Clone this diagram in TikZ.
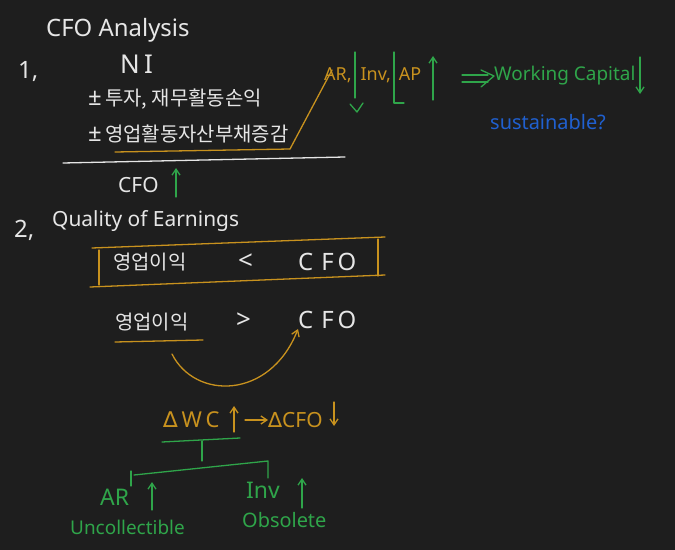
\documentclass[tikz,border=0pt]{standalone}
\usepackage{fontspec}
\setmainfont{Noto Sans}
\newfontfamily\kr{Noto Sans CJK KR}
\newfontfamily\sym{DejaVu Sans}
\usetikzlibrary{arrows.meta}
\definecolor{bg}{HTML}{1E1E1E}
\definecolor{wh}{HTML}{E6E6E6}
\definecolor{gd}{HTML}{C8921E}
\definecolor{gr}{HTML}{2FA54A}
\definecolor{bl}{HTML}{2060D0}
\begin{document}
\begin{tikzpicture}[x=1bp,y=-1bp,
  txt/.style={inner sep=0,anchor=west,font=\fontsize{20}{24}\selectfont},
  ink/.style={line width=1.3pt,line cap=round,line join=round},
  arr/.style={ink,-{Straight Barb[length=6pt,width=8pt]}}]
\fill[bg] (0,0) rectangle (675,550);
\useasboundingbox (0,0) rectangle (675,550);
% Section 1
\node[txt,wh,font=\fontsize{24}{28}\selectfont] (title) at (46,30) {CFO Analysis};
\node[txt,wh,font=\fontsize{24}{28}\selectfont] (one) at (18,72) {1,};
\node[txt,wh,font=\fontsize{26}{30}\selectfont] (ni) at (120,64) {N\,I};
\node[txt,wh] (l1) at (88,99) {{\fontsize{24}{28}\selectfont ±}\,{\kr 투자, 재무활동손익}};
\node[txt,wh] (l2) at (88,134) {{\fontsize{24}{28}\selectfont ±}\,{\kr 영업활동자산부채증감}};
\coordinate (u1) at (115,152);
\coordinate (u2) at (290,149);
\draw[ink,gd] (u1) -- (u2);
\draw[ink,wh] (63,163) -- (345,157);
\node[txt,wh,font=\fontsize{21}{25}\selectfont] (cfo1) at (118,185) {CFO};
\draw[arr,gr] (176,197) -- (176,168);
% AR Inv AP
\node[txt,gd,font=\fontsize{18}{22}\selectfont] (arinv) at (324,75) {AR,\hspace{9pt}Inv,\hspace{8pt}AP};
\coordinate (arfoot) at (332,70);
\draw[ink,gd] (u2) -- (arfoot);
\draw[ink,gr] (355,52) -- (355,98);
\draw[ink,gr] (350,104) -- (357,112) -- (363,103);
\draw[ink,gr] (394,52) -- (394,103) -- (404,103);
\draw[arr,gr] (433,100) -- (433,56);
\node[txt,gr,font=\fontsize{19}{23}\selectfont] (wc) at (494,76) {Working Capital};
\coordinate (wa1) at (462,75);
\coordinate (wa2) at (462,82);
\draw[ink,gr] (wa1) -- (488,75);
\draw[ink,gr] (wa2) -- (488,82);
\draw[ink,gr] (481,70) -- (wc.west) -- (481,87);
\draw[arr,gr] (640,57) -- (640,94);
\node[txt,bl,font=\fontsize{20}{24}\selectfont] (sus) at (490,122) {sustainable?};
% Section 2
\node[txt,wh,font=\fontsize{24}{28}\selectfont] (two) at (14,230) {2,};
\node[txt,wh,font=\fontsize{21}{25}\selectfont] (qoe) at (52,221) {Quality of Earnings};
\draw[ink,gd] (92,248) -- (385,237);
\draw[ink,gd] (90,287) -- (385,275);
\draw[ink,gd] (99,250) -- (99,285);
\draw[ink,gd] (378,239) -- (378,276);
\node[txt,wh] (op1) at (113,262) {\kr 영업이익};
\node[txt,wh,font=\fontsize{26}{30}\selectfont] (lt) at (238,262) {<};
\node[txt,wh,font=\fontsize{24}{28}\selectfont] (cfo2) at (298,262) {C\,\,F\,O};
\node[txt,wh] (op2) at (115,322) {\kr 영업이익};
\node[txt,wh,font=\fontsize{26}{30}\selectfont] (gt) at (236,321) {>};
\node[txt,wh,font=\fontsize{24}{28}\selectfont] (cfo3) at (298,320) {C\,\,F\,O};
\draw[ink,gd] (115,342) -- (203,340);
\coordinate (cs) at (172,354);
\draw[arr,gd] (cs) .. controls (195,400) and (270,400) .. (cfo3.south west);
% Delta WC
\node[txt,gd,font=\fontsize{22}{26}\selectfont] (dwc) at (163,420) {{\sym ∆}\,W\,C};
\draw[arr,gd] (234,432) -- (234,406);
\node[txt,gd,font=\fontsize{21}{25}\selectfont] (dcfo) at (268,420) {{\sym ∆}CFO};
\draw[arr,gd] (245,420) -- (dcfo.west);
\draw[arr,gd] (334,402) -- (334,426);
% tree
\coordinate (t1) at (162,442);
\coordinate (t2) at (240,438);
\draw[ink,gr] (t1) -- (t2);
\draw[ink,gr] (202,441) -- (202,461);
\draw[ink,gr] (134,475) -- (268,461) -- (268,478);
\draw[ink,gr] (131,471) -- (131,486);
\node[txt,gr,font=\fontsize{23}{27}\selectfont] (ar) at (100,497) {AR};
\draw[arr,gr] (152,510) -- (152,482);
\node[txt,gr,font=\fontsize{23}{27}\selectfont] (inv) at (246,490) {Inv};
\draw[arr,gr] (302,508) -- (302,478);
\node[txt,gr,font=\fontsize{19}{23}\selectfont] (unc) at (70,527) {Uncollectible};
\node[txt,gr,font=\fontsize{20}{24}\selectfont] (obs) at (242,520) {Obsolete};
\end{tikzpicture}
\end{document}
